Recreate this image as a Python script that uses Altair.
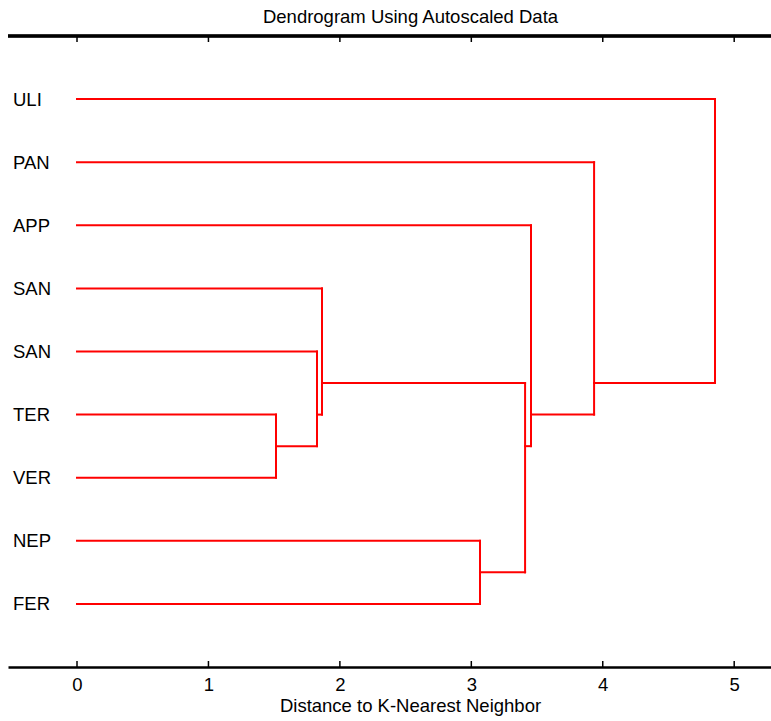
import json
import altair as alt
import pandas as pd

# ---- data ----
leaf_names = ["ULI", "PAN", "APP", "SAN", "SAN", "TER", "VER", "NEP", "FER"]
# merges: (child_a, child_b, height); leaves are 0..8, new clusters numbered from 9
merge_a = [5, 4, 3, 7, 11, 2, 1, 0]
merge_b = [6, 9, 10, 8, 12, 13, 14, 15]
merge_h = [1.514, 1.826, 1.864, 3.066, 3.409, 3.454, 3.934, 4.854]
x_ticks = [0, 1, 2, 3, 4, 5]

title_text = "Dendrogram Using Autoscaled Data"
x_title = "Distance to K-Nearest Neighbor"

# ---- build dendrogram segments from the linkage ----
node_x = {i: 0.0 for i in range(len(leaf_names))}
node_leaves = {i: [i + 1] for i in range(len(leaf_names))}
segs = []
for k, (a, b, h) in enumerate(zip(merge_a, merge_b, merge_h)):
    nid = len(leaf_names) + k
    ya = sum(node_leaves[a]) / len(node_leaves[a])
    yb = sum(node_leaves[b]) / len(node_leaves[b])
    segs.append({"x": node_x[a], "x2": h, "y": ya, "y2": ya})
    segs.append({"x": node_x[b], "x2": h, "y": yb, "y2": yb})
    segs.append({"x": h, "x2": h, "y": ya, "y2": yb})
    node_x[nid] = h
    node_leaves[nid] = node_leaves[a] + node_leaves[b]
seg_df = pd.DataFrame(segs)
tick_df = pd.DataFrame({"t": x_ticks})

FONT = "Liberation Sans"
FS = 18.5
W, H = 763, 631
xscale = alt.Scale(domain=[-0.525, 5.28], nice=False, zero=False)
yscale = alt.Scale(domain=[0, 10], reverse=True, nice=False, zero=False)

label_expr = "%s[datum.value - 1]" % json.dumps(leaf_names)

lines = alt.Chart(seg_df).mark_rule(color="#ff0000", strokeWidth=2, strokeCap="square").encode(
    x=alt.X("x:Q", scale=xscale, axis=alt.Axis(
        orient="bottom", values=x_ticks, format="d", ticks=False, grid=False,
        domain=True, domainColor="black", domainWidth=2.5,
        labelFontSize=FS, labelFont=FONT, labelColor="black", labelPadding=8,
        title=x_title, titleFontSize=FS, titleFont=FONT, titleFontWeight="normal",
        titleColor="black", titlePadding=3, titleX=402)),
    x2="x2:Q",
    y=alt.Y("y:Q", scale=yscale, axis=alt.Axis(
        orient="left", values=list(range(1, len(leaf_names) + 1)), labelExpr=label_expr,
        ticks=False, domain=False, grid=False, labelAlign="left",
        labelPadding=-4.5, labelFontSize=FS, labelFont=FONT, labelColor="black",
        labelBaseline="middle", title=None)),
    y2="y2:Q",
)

# top frame line (no labels) and inward ticks on both axes
top_line = alt.Chart(tick_df).mark_rule(color="black", strokeWidth=2.5).encode(
    x=alt.value(0), x2=alt.value(W), y=alt.value(0),
)
top_ticks = alt.Chart(tick_df).mark_rule(color="black", strokeWidth=1.5).encode(
    x=alt.X("t:Q", scale=xscale),
    y=alt.value(0), y2=alt.value(6),
)
bottom_ticks = alt.Chart(tick_df).mark_rule(color="black", strokeWidth=1.5).encode(
    x=alt.X("t:Q", scale=xscale),
    y=alt.value(H - 6), y2=alt.value(H),
)

chart = alt.layer(lines, top_line, top_ticks, bottom_ticks).properties(
    width=W, height=H,
    view=alt.ViewBackground(stroke="transparent", strokeWidth=0),
    title=alt.TitleParams(title_text, fontSize=FS, font=FONT, fontWeight="normal",
                          color="black", offset=8, dx=21),
    autosize=alt.AutoSizeParams(type="none"),
    padding={"left": 8, "top": 36, "right": 0, "bottom": 54},
).configure_view(
    strokeWidth=0, stroke="transparent"
).configure(background="white")

chart.save("out.html", embed_options={"renderer": "svg", "actions": False})
